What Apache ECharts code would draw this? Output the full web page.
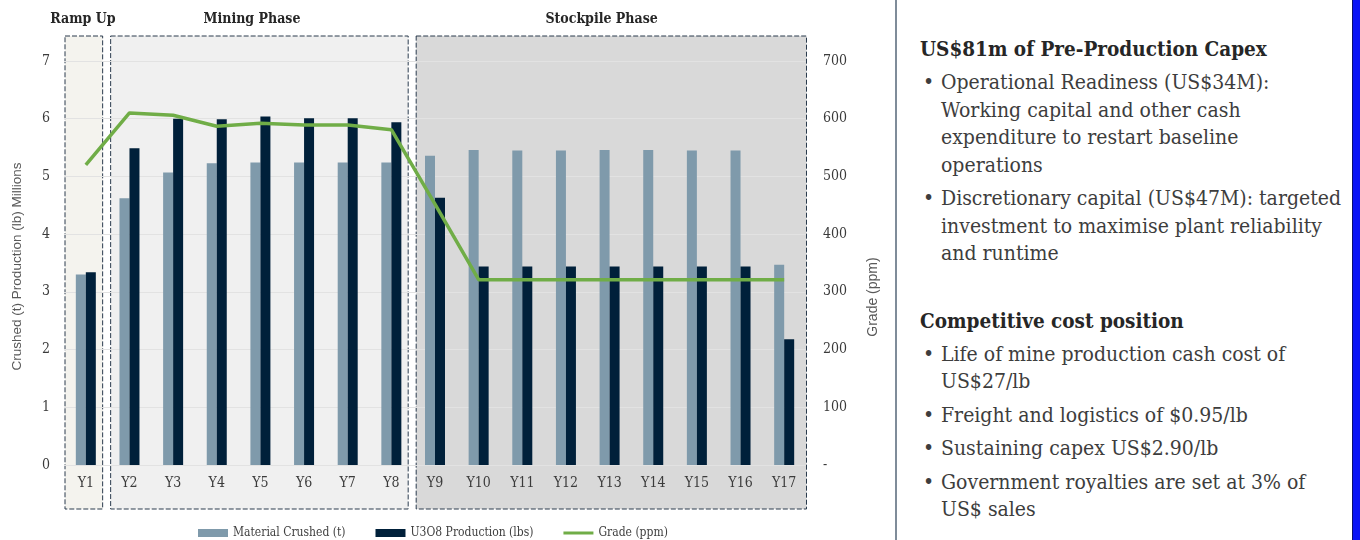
<!DOCTYPE html>
<html>
<head>
<meta charset="utf-8">
<title>Production profile</title>
<script src="https://cdn.jsdelivr.net/npm/echarts@6/dist/echarts.min.js"></script>
<style>
  html, body { margin: 0; padding: 0; background: #fff; }
  body { width: 1360px; height: 540px; position: relative; overflow: hidden; }
  #chart { position: absolute; left: 0; top: 0; width: 890px; height: 540px; }
  #divider { position: absolute; left: 895px; top: 0; width: 2px; height: 540px; background: #7f8c99; }
  #edge { position: absolute; left: 1352px; top: 0; width: 8px; height: 540px; background: #0a14f5; border-left: 1px solid #0b1070; box-sizing: border-box; }
  #panel { position: absolute; left: 920px; top: 35px; width: 430px;
    font-family: "DejaVu Serif Condensed", "DejaVu Serif", serif; font-stretch: condensed;
    font-size: 21px; line-height: 27.5px; color: #3d3d3d; white-space: nowrap; }
  #panel h3 { margin: 0; font-size: 20.5px; line-height: 28px; font-weight: bold; color: #262626; }
  #panel h3.second { margin-top: 39px; }
  #panel ul { margin: 0; padding: 0; list-style: none; }
  #panel li { position: relative; padding-left: 21px; margin-top: 6px; }
  #panel li::before { content: "\2022"; position: absolute; left: 3px; top: 0; }
</style>
</head>
<body>
<div id="chart"></div>
<div id="divider"></div>
<div id="edge"></div>
<div id="panel">
  <h3>US$81m of Pre-Production Capex</h3>
  <ul>
    <li>Operational Readiness (US$34M):<br>Working capital and other cash<br>expenditure to restart baseline<br>operations</li>
    <li>Discretionary capital (US$47M): targeted<br>investment to maximise plant reliability<br>and runtime</li>
  </ul>
  <h3 class="second">Competitive cost position</h3>
  <ul>
    <li>Life of mine production cash cost of<br>US$27/lb</li>
    <li>Freight and logistics of $0.95/lb</li>
    <li>Sustaining capex US$2.90/lb</li>
    <li>Government royalties are set at 3% of<br>US$ sales</li>
  </ul>
</div>
<script>
// data
const years = ['Y1','Y2','Y3','Y4','Y5','Y6','Y7','Y8','Y9','Y10','Y11','Y12','Y13','Y14','Y15','Y16','Y17'];
const materialCrushed = [3.30, 4.62, 5.07, 5.23, 5.24, 5.24, 5.24, 5.24, 5.36, 5.46, 5.45, 5.45, 5.46, 5.46, 5.45, 5.45, 3.47]; // Mt
const u3o8Production = [3.34, 5.49, 6.00, 5.99, 6.04, 6.01, 6.01, 5.94, 4.63, 3.44, 3.44, 3.44, 3.44, 3.44, 3.44, 3.44, 2.18]; // Mlb
const grade = [520, 610, 606, 587, 592, 589, 589, 581, 452, 321, 321, 321, 321, 321, 321, 321, 321]; // ppm
const leftTicks = [0, 7, 1];     // min, max, interval
const rightTicks = [0, 700, 100];
const phaseNames = ['Ramp Up', 'Mining Phase', 'Stockpile Phase'];
const phaseStart = [0, 1, 8];
const phaseEnd = [0, 7, 16];
const phaseFill = ['#f4f3ee', '#f0f0f0', '#d9d9d9'];

const serif = '"DejaVu Serif Condensed", "DejaVu Serif", serif';
const sans = '"Liberation Sans Narrow", "Liberation Sans", sans-serif';
const GRID = { left: 64, right: 84, top: 61, bottom: 75 };

const chart = echarts.init(document.getElementById('chart'));
chart.setOption({
  animation: false,
  grid: Object.assign({ containLabel: false, outerBoundsMode: 'none' }, GRID),
  legend: {
    left: 193, top: 522,
    itemWidth: 30, itemHeight: 8, itemGap: 30,
    textStyle: { fontFamily: serif, fontSize: 12, color: '#404040' },
    data: [
      { name: 'Material Crushed (t)', icon: 'rect' },
      { name: 'U3O8 Production (lbs)', icon: 'rect' },
      // thin bar drawn inside the 30x8 icon box
      { name: 'Grade (ppm)', icon: 'path://M0,0 M0,2.5 L30,2.5 L30,5.5 L0,5.5 Z M30,8' }
    ]
  },
  xAxis: {
    type: 'category',
    data: years,
    axisLine: { show: false },
    axisTick: { show: false },
    axisLabel: { margin: 11, fontFamily: serif, fontSize: 14, color: '#3b3b3b' }
  },
  yAxis: [
    {
      type: 'value',
      min: leftTicks[0], max: leftTicks[1], interval: leftTicks[2],
      name: 'Crushed (t) Production (lb) Millions',
      nameLocation: 'middle', nameGap: 40, nameRotate: 90,
      nameTextStyle: { fontFamily: sans, fontSize: 13.5, color: '#595959', padding: [0, 0, 0, -7] },
      axisLabel: { margin: 14, fontFamily: serif, fontSize: 14, color: '#3b3b3b' },
      splitLine: { lineStyle: { color: '#e2e2e2', width: 1 } }
    },
    {
      type: 'value',
      min: rightTicks[0], max: rightTicks[1], interval: rightTicks[2],
      name: 'Grade (ppm)',
      nameLocation: 'middle', nameGap: 60, nameRotate: 90,
      nameTextStyle: { fontFamily: sans, fontSize: 14, color: '#595959', padding: [0, 0, 0, -68] },
      axisLabel: {
        margin: 17, align: 'left', fontFamily: serif, fontSize: 14, color: '#3b3b3b',
        formatter: v => (v === 0 ? '-' : String(v))
      },
      splitLine: { show: false }
    }
  ],
  series: [
    {
      name: 'Material Crushed (t)', type: 'bar', yAxisIndex: 0,
      barWidth: 10, barGap: '0%',
      itemStyle: { color: '#7f9aab' },
      data: materialCrushed
    },
    {
      name: 'U3O8 Production (lbs)', type: 'bar', yAxisIndex: 0,
      barWidth: 10, barGap: '0%',
      itemStyle: { color: '#00203a' },
      data: u3o8Production
    },
    {
      name: 'Grade (ppm)', type: 'line', yAxisIndex: 1,
      symbol: 'none', z: 5,
      lineStyle: { color: '#70ad47', width: 3.5 },
      itemStyle: { color: '#70ad47' },
      data: grade
    }
  ]
});

// phase boxes and headings, placed from the category axis
function drawPhases() {
  const xs = years.map((y, i) => chart.convertToPixel({ xAxisIndex: 0 }, i));
  const band = xs[1] - xs[0];
  const y0 = GRID.top - 25;
  const y1 = chart.getHeight() - GRID.bottom + 44;
  const els = [];
  phaseNames.forEach((name, k) => {
    const lb = xs[phaseStart[k]] - band / 2;
    const rb = xs[phaseEnd[k]] + band / 2;
    const x0 = k === 0 ? lb + 1 : lb + 3;
    const x1 = k === phaseNames.length - 1 ? rb + 0.5 : rb - 5;
    els.push({
      type: 'rect', z: -10, silent: true,
      shape: { x: x0, y: y0, width: x1 - x0, height: y1 - y0 },
      style: { fill: phaseFill[k], stroke: '#2a3b4d', lineWidth: 1, lineDash: [5, 2] }
    });
    els.push({
      type: 'text', z: 10, silent: true,
      x: x0 + (x1 - x0) * 0.475, y: 19,
      style: {
        text: name, fill: '#262626', align: 'center', verticalAlign: 'middle',
        font: 'bold 14px ' + serif
      }
    });
  });
  chart.setOption({ graphic: els });
}
drawPhases();
</script>
</body>
</html>
